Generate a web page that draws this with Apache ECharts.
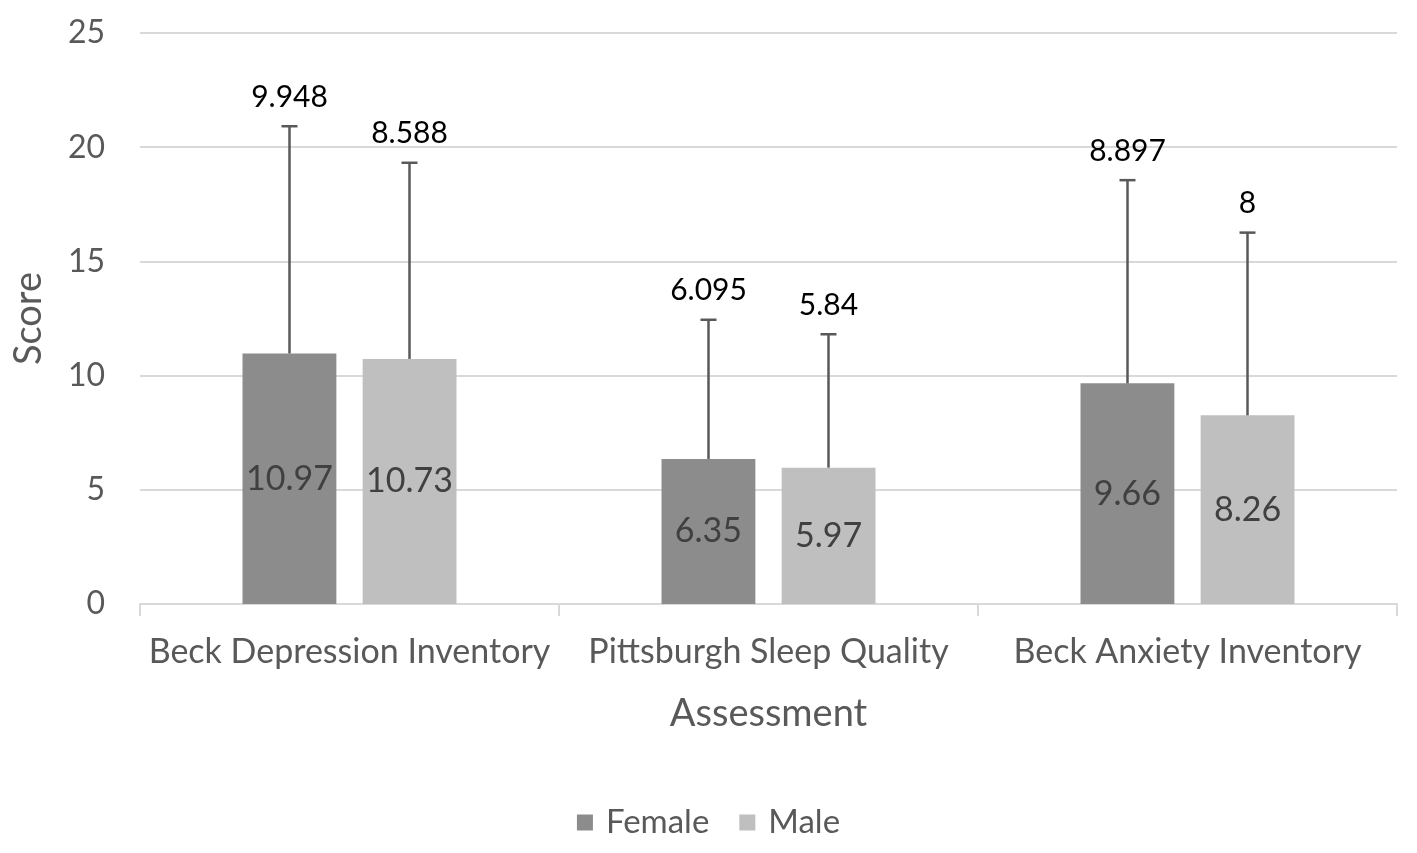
<!DOCTYPE html>
<html>
<head>
<meta charset="utf-8">
<title>Score by assessment</title>
<script src="https://cdn.jsdelivr.net/npm/echarts@6/dist/echarts.min.js"></script>
<style>
  * {margin: 0; padding: 0;}
  html, body {background: #fff;}
  #chart {width: 1417px; height: 853px;}
</style>
</head>
<body>
<div id="chart"></div>
<script>
var categories = ['Beck Depression Inventory', 'Pittsburgh Sleep Quality', 'Beck Anxiety Inventory'];
var femaleMean = [10.97, 6.35, 9.66];
var maleMean = [10.73, 5.97, 8.26];
var femaleSD = [9.948, 6.095, 8.897];
var maleSD = [8.588, 5.84, 8];
var yTicks = [0, 5, 10, 15, 20, 25];

var FONT = 'Lato';
var TXT = '#595959';

// error bar: line up from the mean, cap on top, SD value above it
function errorBar(side) {
  return function (params, api) {
    var cat = api.value(0);
    var mean = api.value(1);
    var sd = api.value(2);
    var bandW = api.size([1, 0])[0];
    var off = side * bandW * 0.1432;
    var base = api.coord([cat, mean]);
    var top = api.coord([cat, mean + sd]);
    var x = base[0] + off;
    var st = {stroke: '#595959', lineWidth: 2.5};
    return {
      type: 'group',
      children: [
        {type: 'line', shape: {x1: x, y1: base[1], x2: x, y2: top[1]}, style: st},
        {type: 'line', shape: {x1: x - 8, y1: top[1], x2: x + 8, y2: top[1]}, style: st},
        {type: 'text', style: {
          text: String(sd), x: x, y: top[1] - 29,
          align: 'center', verticalAlign: 'middle',
          fontFamily: FONT, fontSize: 30, fill: '#000'
        }}
      ]
    };
  };
}

function errData(means, sds) {
  var out = [];
  for (var i = 0; i < categories.length; i++) {
    out.push([i, means[i], sds[i]]);
  }
  return out;
}

var chart = echarts.init(document.getElementById('chart'));

var barLabel = {
  show: true, position: 'inside',
  fontFamily: FONT, fontSize: 34, color: '#404040'
};

var option = {
  animation: false,
  textStyle: {fontFamily: FONT},
  grid: {left: 140, right: 20, top: 33, bottom: 249, outerBoundsMode: 'none'},
  legend: {
    bottom: 9, left: 'center',
    itemWidth: 16, itemHeight: 16, itemGap: 30,
    textStyle: {fontFamily: FONT, fontSize: 33, color: TXT, padding: [0, 0, 0, 8]},
    data: [{name: 'Female', icon: 'rect'}, {name: 'Male', icon: 'rect'}]
  },
  xAxis: {
    type: 'category',
    data: categories,
    name: 'Assessment',
    nameLocation: 'middle',
    nameGap: 91,
    nameTextStyle: {fontFamily: FONT, fontSize: 38, color: TXT},
    axisLine: {lineStyle: {color: '#d9d9d9', width: 2}},
    axisTick: {show: true, length: 12, lineStyle: {color: '#d9d9d9', width: 2}},
    axisLabel: {interval: 0, fontFamily: FONT, fontSize: 34, color: TXT, margin: 31}
  },
  yAxis: {
    type: 'value',
    min: yTicks[0],
    max: yTicks[yTicks.length - 1],
    interval: 5,
    name: 'Score',
    nameLocation: 'middle',
    nameGap: 92,
    nameTextStyle: {fontFamily: FONT, fontSize: 38, color: TXT},
    axisLine: {show: false},
    axisTick: {show: false},
    axisLabel: {fontFamily: FONT, fontSize: 32, color: TXT, margin: 35},
    splitLine: {lineStyle: {color: '#d9d9d9', width: 2}}
  },
  series: [
    {
      name: 'Female', type: 'bar', data: femaleMean,
      barWidth: '22.4%', barGap: '28%',
      itemStyle: {color: '#8c8c8c'},
      label: barLabel
    },
    {
      name: 'Male', type: 'bar', data: maleMean,
      barWidth: '22.4%',
      itemStyle: {color: '#bfbfbf'},
      label: barLabel
    },
    {
      name: 'FemaleErr', type: 'custom', renderItem: errorBar(-1),
      data: errData(femaleMean, femaleSD),
      encode: {x: 0, y: [1, 2]}, z: 3
    },
    {
      name: 'MaleErr', type: 'custom', renderItem: errorBar(1),
      data: errData(maleMean, maleSD),
      encode: {x: 0, y: [1, 2]}, z: 3
    }
  ]
};

chart.setOption(option);
</script>
</body>
</html>
